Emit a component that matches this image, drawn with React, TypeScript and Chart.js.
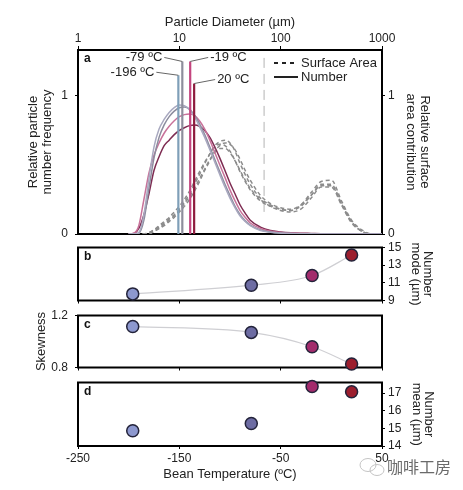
import React, { useEffect, useRef } from 'react';
import { Chart, registerables } from 'chart.js';

Chart.register(...registerables);
Chart.defaults.font.family = "'Liberation Sans', Arial, Helvetica, sans-serif";
Chart.defaults.color = '#222';

// ---------- Panel a data ----------
const diameters = [3.16, 3.55, 3.98, 4.47, 5.01, 5.62, 6.31, 7.08, 7.94, 8.91, 10, 11.2, 12.6, 14.1, 15.8, 17.8, 20.0, 22.4, 25.1, 28.2, 31.6, 35.5, 39.8, 44.7, 50.1, 63.1, 79.4, 100, 126, 158, 200, 251, 316, 398, 501, 631, 794, 1000];
const number196 = [0, 0, 0.01, 0.14, 0.40, 0.63, 0.76, 0.83, 0.88, 0.915, 0.935, 0.93, 0.90, 0.85, 0.78, 0.70, 0.61, 0.52, 0.43, 0.34, 0.26, 0.19, 0.13, 0.09, 0.06, 0.025, 0.012, 0.006, 0.003, 0.002, 0.001, 0, 0, 0, 0, 0, 0, 0];
const number79 = [0, 0, 0.005, 0.10, 0.33, 0.55, 0.70, 0.79, 0.85, 0.89, 0.915, 0.92, 0.905, 0.86, 0.80, 0.72, 0.63, 0.54, 0.45, 0.36, 0.28, 0.20, 0.14, 0.095, 0.065, 0.03, 0.014, 0.007, 0.004, 0.002, 0.001, 0, 0, 0, 0, 0, 0, 0];
const number19 = [0, 0.005, 0.06, 0.25, 0.44, 0.57, 0.66, 0.73, 0.78, 0.82, 0.85, 0.865, 0.87, 0.86, 0.82, 0.76, 0.68, 0.59, 0.50, 0.41, 0.32, 0.24, 0.17, 0.12, 0.08, 0.04, 0.02, 0.011, 0.007, 0.004, 0.002, 0.001, 0, 0, 0, 0, 0, 0];
const number20 = [0, 0.003, 0.04, 0.14, 0.29, 0.46, 0.56, 0.64, 0.68, 0.72, 0.75, 0.77, 0.785, 0.79, 0.78, 0.75, 0.70, 0.63, 0.55, 0.46, 0.37, 0.29, 0.21, 0.15, 0.10, 0.05, 0.025, 0.015, 0.009, 0.006, 0.004, 0.002, 0.001, 0, 0, 0, 0, 0];
const surface196 = [0, 0, 0, 0, 0.01, 0.03, 0.06, 0.09, 0.12, 0.16, 0.20, 0.25, 0.31, 0.38, 0.45, 0.52, 0.58, 0.63, 0.65, 0.64, 0.60, 0.53, 0.45, 0.38, 0.32, 0.24, 0.20, 0.18, 0.17, 0.20, 0.28, 0.36, 0.36, 0.22, 0.09, 0.02, 0, 0];
const surface79 = [0, 0, 0, 0, 0, 0.02, 0.04, 0.07, 0.10, 0.13, 0.17, 0.22, 0.27, 0.33, 0.40, 0.47, 0.54, 0.59, 0.62, 0.62, 0.59, 0.53, 0.46, 0.39, 0.33, 0.25, 0.20, 0.17, 0.16, 0.18, 0.26, 0.34, 0.34, 0.21, 0.08, 0.02, 0, 0];
const surface19 = [0, 0, 0, 0, 0.01, 0.03, 0.05, 0.08, 0.11, 0.14, 0.18, 0.23, 0.29, 0.36, 0.43, 0.51, 0.58, 0.64, 0.67, 0.68, 0.66, 0.60, 0.51, 0.43, 0.36, 0.26, 0.21, 0.18, 0.17, 0.21, 0.30, 0.38, 0.39, 0.24, 0.10, 0.03, 0, 0];
const surface20 = [0, 0, 0, 0, 0, 0.02, 0.04, 0.06, 0.09, 0.12, 0.16, 0.20, 0.25, 0.31, 0.38, 0.46, 0.53, 0.60, 0.64, 0.66, 0.65, 0.61, 0.54, 0.46, 0.39, 0.28, 0.22, 0.19, 0.18, 0.21, 0.28, 0.35, 0.35, 0.22, 0.09, 0.02, 0, 0];

const tempLabels = ['-196 ºC', '-79 ºC', '-19 ºC', '20 ºC'];
const modeDiameters = [9.78, 10.7, 12.8, 14.0];
const modeLineTops = [1.15, 1.25, 1.25, 1.09];
const cutoffDiameter = [68.6, 68.6];
const cutoffRange = [0.16, 1.31];

const diameterTicks = [1, 10, 100, 1000];
const freqTicks = [0, 1];

// ---------- Panels b-d data ----------
const temperatures = [-196, -79, -19, 20];
const numberMode = [9.75, 10.73, 11.83, 14.15];
const skewness = [1.115, 1.07, 0.96, 0.827];
const numberMean = [14.86, 15.28, 17.37, 17.07];
const tempTicks = [-250, -150, -50, 50];
const modeTicks = [9, 11, 13, 15];
const skewTicks = [0.8, 1.2];
const meanTicks = [14, 15, 16, 17];

// ---------- styles ----------
const numberColors = ['#a9a9c0', '#8c8c9e', '#c8729a', '#7e2c52'];
const modeLineColors = ['#7f9fb8', '#8d8d9b', '#c4457f', '#8e1c3e'];
const surfaceColor = '#8c8c8c';
const pointColors = ['#8d98cf', '#6d6ca3', '#a22b6c', '#9c1e2e'];
const leaderLayout = [
  { dx: -22, dy: -3 },
  { dx: -18, dy: -4 },
  { dx: 18, dy: -4 },
  { dx: 21, dy: -4 },
];

const W = 463;
const PLOT_L = 78;
const PLOT_R_GAP = 81;

const setTicks = (vals: number[]) => (s: any) => {
  s.ticks = vals.map((v) => ({ value: v }));
};

const fixWidth = (w: number) => (s: any) => {
  s.width = w;
  s.paddingTop = 0;
  s.paddingBottom = 0;
};
const fixHeight = (h: number) => (s: any) => {
  s.height = h;
  s.paddingLeft = 0;
  s.paddingRight = 0;
};

const framePlugin = (letter: string) => ({
  id: 'frame_' + letter,
  beforeDatasetsDraw(chart: any) {
    const { ctx, chartArea: a } = chart;
    ctx.save();
    ctx.strokeStyle = '#000';
    ctx.lineWidth = 2;
    ctx.strokeRect(a.left, a.top, a.right - a.left, a.bottom - a.top);
    ctx.font = "bold 12px 'Liberation Sans', Arial, sans-serif";
    ctx.fillStyle = '#111';
    ctx.textBaseline = 'middle';
    ctx.textAlign = 'left';
    ctx.fillText(letter, a.left + 6, a.top + 9);
    ctx.restore();
  },
});

const annotationPlugin = {
  id: 'modeLabels',
  afterDatasetsDraw(chart: any) {
    const { ctx, chartArea: a } = chart;
    const xs = chart.scales.x;
    const ys = chart.scales.y;
    ctx.save();
    ctx.font = "13px 'Liberation Sans', Arial, sans-serif";
    ctx.textBaseline = 'middle';
    modeDiameters.forEach((d, i) => {
      const x = xs.getPixelForValue(d);
      const y = ys.getPixelForValue(modeLineTops[i]);
      const { dx, dy } = leaderLayout[i];
      ctx.strokeStyle = '#666';
      ctx.lineWidth = 1;
      ctx.beginPath();
      ctx.moveTo(x, y);
      ctx.lineTo(x + dx, y + dy);
      ctx.stroke();
      ctx.fillStyle = '#222';
      ctx.textAlign = dx < 0 ? 'right' : 'left';
      ctx.fillText(tempLabels[i], x + dx + (dx < 0 ? -2 : 2), y + dy);
    });
    // legend
    const lx = a.right - 108;
    const ly1 = a.top + 13;
    const ly2 = a.top + 27;
    ctx.strokeStyle = '#222';
    ctx.lineWidth = 2;
    ctx.setLineDash([4, 4]);
    ctx.beginPath();
    ctx.moveTo(lx, ly1);
    ctx.lineTo(lx + 24, ly1);
    ctx.stroke();
    ctx.setLineDash([]);
    ctx.beginPath();
    ctx.moveTo(lx, ly2);
    ctx.lineTo(lx + 24, ly2);
    ctx.stroke();
    ctx.fillStyle = '#222';
    ctx.textAlign = 'left';
    ctx.fillText('Surface Area', lx + 27, ly1);
    ctx.fillText('Number', lx + 27, ly2);
    ctx.restore();
  },
};

const watermarkPlugin = {
  id: 'watermark',
  afterDraw(chart: any) {
    const { ctx } = chart;
    ctx.save();
    ctx.strokeStyle = '#c4c4c4';
    ctx.lineWidth = 1;
    ctx.beginPath();
    ctx.ellipse(368, 90, 8, 6.5, 0, 0, Math.PI * 2);
    ctx.stroke();
    ctx.beginPath();
    ctx.ellipse(377, 95, 7, 5.5, 0, 0, Math.PI * 2);
    ctx.stroke();
    ctx.fillStyle = '#6a6a6a';
    ctx.font = "16px 'Noto Sans CJK SC', sans-serif";
    ctx.textBaseline = 'middle';
    ctx.textAlign = 'left';
    ctx.fillText('咖啡工房', 387, 92);
    ctx.restore();
  },
};

const baseOptions = {
  responsive: false,
  animation: false as const,
  events: [] as any[],
  plugins: { legend: { display: false }, tooltip: { enabled: false } },
};

const tickGrid = (len: number) => ({ drawOnChartArea: false, tickLength: len, color: '#000', lineWidth: 1 });
const yTicks = (padding: number, cb?: (v: any) => string) => ({
  font: { size: 12 },
  padding,
  autoSkip: false,
  callback: cb || ((v: any) => String(v)),
});

function makeA(): any {
  const numberSets = [number196, number79, number19, number20];
  const surfaceSets = [surface196, surface79, surface19, surface20];
  const datasets: any[] = [];
  modeDiameters.forEach((d, i) => {
    datasets.push({
      data: [{ x: d, y: 0 }, { x: d, y: modeLineTops[i] }],
      borderColor: modeLineColors[i],
      borderWidth: 2.2,
      pointRadius: 0,
    });
  });
  numberSets.forEach((arr, i) => {
    datasets.push({
      data: diameters.map((d, j) => ({ x: d, y: arr[j] })),
      borderColor: numberColors[i],
      borderWidth: 1.5,
      pointRadius: 0,
      cubicInterpolationMode: 'monotone',
    });
  });
  surfaceSets.forEach((arr) => {
    datasets.push({
      data: diameters.map((d, j) => ({ x: d, y: arr[j] })),
      borderColor: surfaceColor,
      borderWidth: 1.5,
      borderDash: [4, 3],
      pointRadius: 0,
      cubicInterpolationMode: 'monotone',
    });
  });
  datasets.push({
    data: cutoffDiameter.map((d, i) => ({ x: d, y: cutoffRange[i] })),
    borderColor: '#b4b4b4',
    borderWidth: 1,
    borderDash: [10, 6],
    pointRadius: 0,
  });
  return {
    type: 'line',
    data: { datasets },
    options: {
      ...baseOptions,
      layout: { padding: { bottom: 6 } },
      scales: {
        x: {
          type: 'logarithmic',
          position: 'top',
          min: 1,
          max: 1000,
          afterBuildTicks: setTicks(diameterTicks),
          afterFit: fixHeight(50),
          ticks: { callback: (v: any) => String(v), font: { size: 12 }, padding: 0, maxRotation: 0, autoSkip: false },
          grid: tickGrid(4),
          border: { display: false },
          title: { display: true, text: 'Particle Diameter (µm)', font: { size: 13 }, padding: { top: 15 } },
        },
        y: {
          position: 'left',
          min: 0,
          max: 1.333,
          afterBuildTicks: setTicks(freqTicks),
          afterFit: fixWidth(PLOT_L),
          ticks: yTicks(7),
          grid: tickGrid(3),
          border: { display: false },
          title: { display: true, text: ['Relative particle', 'number frequency'], font: { size: 13, lineHeight: 1.1 }, padding: { top: 26 } },
        },
        y2: {
          position: 'right',
          min: 0,
          max: 1.333,
          afterBuildTicks: setTicks(freqTicks),
          afterFit: fixWidth(PLOT_R_GAP),
          ticks: yTicks(3),
          grid: tickGrid(3),
          border: { display: false },
          title: { display: true, text: ['Relative surface', 'area contribution'], font: { size: 13, lineHeight: 1.1 }, padding: { top: 31 } },
        },
      },
    },
    plugins: [framePlugin('a'), annotationPlugin],
  };
}

const pointDataset = (vals: number[]) => ({
  data: temperatures.map((t, i) => ({ x: t, y: vals[i] })),
  showLine: false,
  pointRadius: 6,
  pointBackgroundColor: pointColors,
  pointBorderColor: '#23233a',
  pointBorderWidth: 1.5,
  clip: false,
});
const fitDataset = (vals: number[]) => ({
  data: temperatures.map((t, i) => ({ x: t, y: vals[i] })),
  borderColor: '#cfcfd3',
  borderWidth: 1.2,
  pointRadius: 0,
  cubicInterpolationMode: 'monotone',
});

const tempAxis = (height: number, labels: boolean): any => ({
  type: 'linear',
  position: 'bottom',
  min: -250,
  max: 50,
  afterBuildTicks: setTicks(tempTicks),
  afterFit: fixHeight(height),
  ticks: { display: labels, font: { size: 12 }, padding: 2, maxRotation: 0, autoSkip: false, callback: (v: any) => String(v) },
  grid: tickGrid(3),
  border: { display: false },
  title: labels
    ? { display: true, text: 'Bean Temperature (ºC)', font: { size: 13 }, padding: { bottom: 8 } }
    : { display: false },
});

function makeB(): any {
  return {
    type: 'line',
    data: { datasets: [pointDataset(numberMode), fitDataset(numberMode)] },
    options: {
      ...baseOptions,
      layout: { padding: { left: PLOT_L, top: 6 } },
      scales: {
        x: tempAxis(6, false),
        y: {
          position: 'right',
          min: 9,
          max: 15,
          afterBuildTicks: setTicks(modeTicks),
          afterFit: fixWidth(PLOT_R_GAP),
          ticks: yTicks(3),
          grid: tickGrid(3),
          border: { display: false },
          title: { display: true, text: ['Number', 'mode (µm)'], font: { size: 13, lineHeight: 0.9 }, padding: { top: 30 } },
        },
      },
    },
    plugins: [framePlugin('b')],
  };
}

function makeC(): any {
  return {
    type: 'line',
    data: { datasets: [pointDataset(skewness), fitDataset(skewness)] },
    options: {
      ...baseOptions,
      layout: { padding: { right: PLOT_R_GAP, top: 6 } },
      scales: {
        x: tempAxis(6, false),
        y: {
          position: 'left',
          min: 0.8,
          max: 1.2,
          afterBuildTicks: setTicks(skewTicks),
          afterFit: fixWidth(PLOT_L),
          ticks: yTicks(7, (v: any) => Number(v).toFixed(1)),
          grid: tickGrid(3),
          border: { display: false },
          title: { display: true, text: 'Skewness', font: { size: 13 }, padding: { top: 34 } },
        },
      },
    },
    plugins: [framePlugin('c')],
  };
}

function makeD(): any {
  return {
    type: 'line',
    data: { datasets: [pointDataset(numberMean)] },
    options: {
      ...baseOptions,
      layout: { padding: { left: PLOT_L, top: 6 } },
      scales: {
        x: tempAxis(44, true),
        y: {
          position: 'right',
          min: 14,
          max: 17.6,
          afterBuildTicks: setTicks(meanTicks),
          afterFit: fixWidth(PLOT_R_GAP),
          ticks: yTicks(3),
          grid: tickGrid(3),
          border: { display: false },
          title: { display: true, text: ['Number', 'mean (µm)'], font: { size: 13, lineHeight: 0.9 }, padding: { top: 29 } },
        },
      },
    },
    plugins: [framePlugin('d'), watermarkPlugin],
  };
}

function Panel({ top, height, make }: { top: number; height: number; make: () => any }) {
  const ref = useRef<HTMLCanvasElement>(null);
  useEffect(() => {
    const chart = new Chart(ref.current as HTMLCanvasElement, make());
    return () => chart.destroy();
  }, []);
  return (
    <canvas
      ref={ref}
      width={W}
      height={height}
      style={{ position: 'absolute', left: 0, top, width: W, height, display: 'block' }}
    />
  );
}

export default function App() {
  return (
    <div style={{ position: 'absolute', left: 0, top: 0, width: W, height: 490, background: '#fff' }}>
      <Panel top={0} height={240} make={makeA} />
      <Panel top={240} height={68} make={makeB} />
      <Panel top={308} height={67} make={makeC} />
      <Panel top={375} height={115} make={makeD} />
    </div>
  );
}
